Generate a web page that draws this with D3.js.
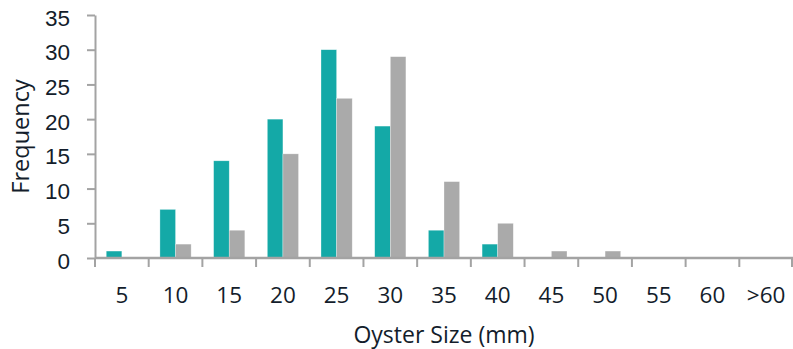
<!DOCTYPE html>
<html>
<head>
<meta charset="utf-8">
<script src="https://cdn.jsdelivr.net/npm/d3@7"></script>
<style>
  html, body { margin: 0; padding: 0; background: #fff; }
  svg { display: block; font-family: "Open Sans", "Noto Sans", sans-serif; }
</style>
</head>
<body>
<svg id="chart" width="793" height="349"></svg>
<script>
// Oyster size classes (mm) and counts for the two samples
const categories = ["5", "10", "15", "20", "25", "30", "35", "40", "45", "50", "55", "60", ">60"];
const seriesNames = ["A", "B"];
const seriesA = [1, 7, 14, 20, 30, 19, 4, 2, 0, 0, 0, 0, 0];
const seriesB = [0, 2, 4, 15, 23, 29, 11, 5, 1, 1, 0, 0, 0];
const yTicks = [0, 5, 10, 15, 20, 25, 30, 35];
const colors = ["#14a9a7", "#aaaaaa"];

const width = 793, height = 349;
const margin = { top: 15, right: 0, bottom: 91, left: 95 };
const svg = d3.select("#chart");

const x0 = d3.scaleBand()
  .domain(categories)
  .range([margin.left, width - margin.right])
  .paddingInner(0).paddingOuter(0);

const x1 = d3.scaleBand()
  .domain(seriesNames)
  .range([0, x0.bandwidth()])
  .paddingInner(0).paddingOuter(0.72);

const y = d3.scaleLinear()
  .domain([0, 35])
  .range([height - margin.bottom, margin.top]);

const rows = categories.map((c, i) => ({ cat: c, values: [seriesA[i], seriesB[i]] }));

// Bars
const groups = svg.append("g").selectAll("g")
  .data(rows).join("g")
  .attr("transform", d => `translate(${x0(d.cat)},0)`);

groups.selectAll("rect")
  .data(d => d.values.map((v, k) => ({ key: seriesNames[k], v, k })))
  .join("rect")
  .filter(d => d.v > 0)
  .attr("x", d => x1(d.key))
  .attr("y", d => y(d.v))
  .attr("width", x1.bandwidth())
  .attr("height", d => y(0) - y(d.v))
  .attr("fill", d => colors[d.k])
  .attr("stroke", "#ffffff")
  .attr("stroke-opacity", 0.5)
  .attr("stroke-width", 0.6);

const axisColor = "#a3a3a3";
const textColor = "#131d2b";

// Y axis
const yAxis = svg.append("g")
  .attr("transform", `translate(${margin.left},0)`)
  .call(d3.axisLeft(y).tickValues(yTicks).tickSize(8).tickPadding(17).tickSizeOuter(0));
yAxis.select(".domain").attr("stroke", axisColor).attr("stroke-width", 2);
yAxis.selectAll(".tick line").attr("stroke", axisColor).attr("stroke-width", 2);
yAxis.selectAll(".tick text")
  .attr("fill", textColor)
  .style("font-size", "22.5px")
  .attr("dy", "0.45em");

// X axis: ticks at category boundaries
const xAxis = svg.append("g")
  .attr("transform", `translate(0,${y(0)})`);
xAxis.append("line")
  .attr("x1", margin.left).attr("x2", width - margin.right)
  .attr("stroke", axisColor).attr("stroke-width", 2.5);
const boundaries = categories.map(c => x0(c)).concat([x0(categories[categories.length - 1]) + x0.bandwidth()]);
xAxis.selectAll(".bound")
  .data(boundaries).join("line")
  .attr("class", "bound")
  .attr("x1", d => Math.min(d, width - 1)).attr("x2", d => Math.min(d, width - 1))
  .attr("y1", 0).attr("y2", 9)
  .attr("stroke", axisColor).attr("stroke-width", 2);
xAxis.selectAll(".lbl")
  .data(categories).join("text")
  .attr("class", "lbl")
  .attr("x", d => x0(d) + x0.bandwidth() / 2)
  .attr("y", 45)
  .attr("text-anchor", "middle")
  .attr("fill", textColor)
  .style("font-size", "22.5px")
  .text(d => d);

// Axis titles
svg.append("text")
  .attr("x", (margin.left + width - margin.right) / 2)
  .attr("y", 343)
  .attr("text-anchor", "middle")
  .attr("fill", textColor)
  .style("font-size", "23px")
  .text("Oyster Size (mm)");

svg.append("text")
  .attr("transform", `translate(29,${(y(0) + y(35)) / 2}) rotate(-90)`)
  .attr("text-anchor", "middle")
  .attr("fill", textColor)
  .style("font-size", "23.5px")
  .text("Frequency");
</script>
</body>
</html>
